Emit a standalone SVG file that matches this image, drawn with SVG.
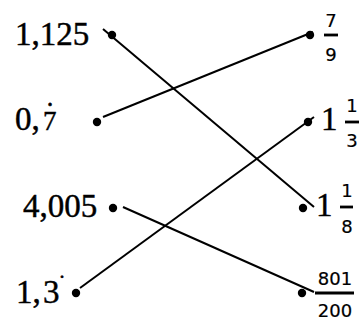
<svg xmlns="http://www.w3.org/2000/svg" width="364" height="323" viewBox="0 0 364 323">
<style>
.big{font-family:"Liberation Serif",serif;font-size:33px;fill:#000;stroke:#000;stroke-width:0.45}
.fr{font-family:"DejaVu Sans",sans-serif;font-size:18px;fill:#000;text-anchor:middle;stroke:#000;stroke-width:0.2}
.bar{stroke:#000;stroke-width:2.8}
.dot{fill:#000}
.ln{stroke:#000;stroke-width:2;fill:none}
</style>
<rect width="364" height="323" fill="#fff"/>
<g id="connectors">
<line class="ln" x1="103" y1="29" x2="314" y2="207"/>
<line class="ln" x1="103" y1="117" x2="313" y2="32"/>
<line class="ln" x1="80" y1="288" x2="314" y2="117"/>
<line class="ln" x1="123" y1="207" x2="314" y2="292"/>
</g>
<g id="n-1125">
<text class="big" x="15" y="45">1,125</text>
<circle class="dot" cx="112" cy="35" r="4.2"/>
</g>
<g id="n-07">
<text class="big" x="15" y="130">0,<tspan x="43" style="font-size:27px">7</tspan><tspan x="45" y="123" style="font-size:30px">˙</tspan></text>
<circle class="dot" cx="97" cy="122" r="4.2"/>
</g>
<g id="n-4005">
<text class="big" x="23" y="217">4,005</text>
<circle class="dot" cx="113" cy="208" r="4.2"/>
</g>
<g id="n-13">
<text class="big" x="16" y="303">1,<tspan x="43">3</tspan><tspan x="58" y="291" style="font-size:24px">˙</tspan></text>
<circle class="dot" cx="76" cy="293" r="4.2"/>
</g>
<g id="n-7-9">
<circle class="dot" cx="310" cy="35" r="4.2"/>
<text class="fr" x="331" y="27">7</text>
<line class="bar" x1="324" y1="35" x2="338" y2="35"/>
<text class="fr" x="331" y="61">9</text>
</g>
<g id="n-1-1-3">
<circle class="dot" cx="308" cy="122" r="4.2"/>
<text class="big" x="321" y="130">1</text>
<text class="fr" x="352" y="112">1</text>
<line class="bar" x1="345" y1="122" x2="359" y2="122"/>
<text class="fr" x="352" y="147">3</text>
</g>
<g id="n-1-1-8">
<circle class="dot" cx="303" cy="208" r="4.2"/>
<text class="big" x="316" y="216">1</text>
<text class="fr" x="347" y="197">1</text>
<line class="bar" x1="340" y1="207" x2="353" y2="207"/>
<text class="fr" x="347" y="233">8</text>
</g>
<g id="n-801-200">
<circle class="dot" cx="302" cy="293" r="4.2"/>
<text class="fr" x="335" y="285">801</text>
<line class="bar" x1="315" y1="293" x2="354" y2="293"/>
<text class="fr" x="335" y="317">200</text>
</g>
</svg>
